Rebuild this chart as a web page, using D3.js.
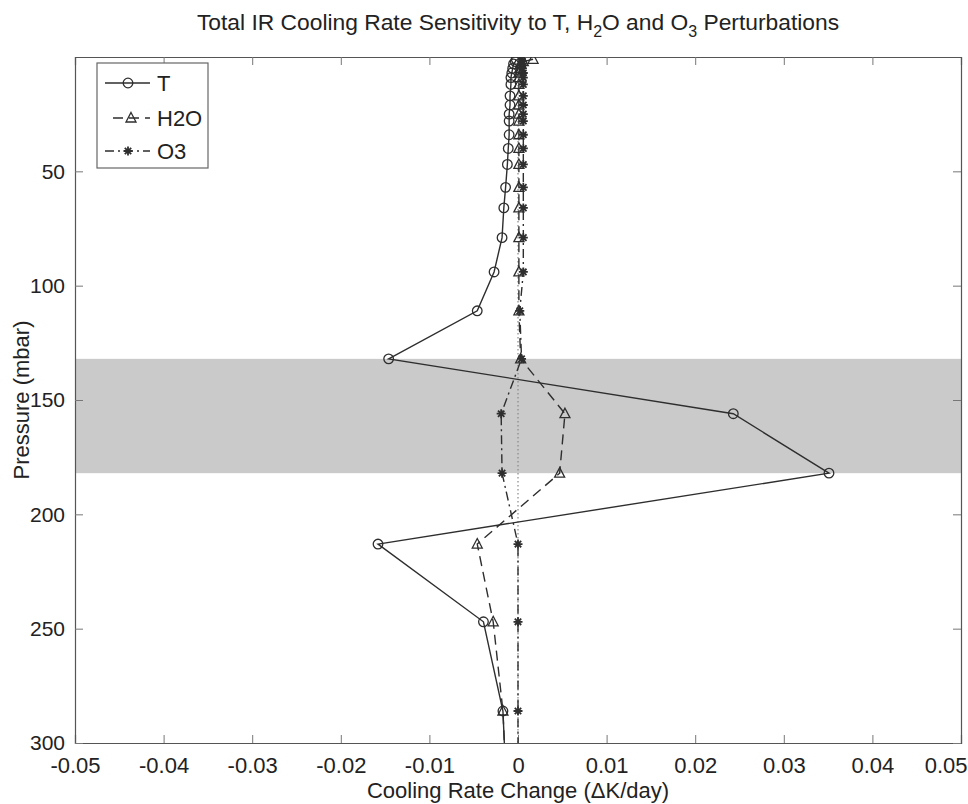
<!DOCTYPE html>
<html>
<head>
<meta charset="utf-8">
<script src="https://cdn.jsdelivr.net/npm/d3@7/dist/d3.min.js"></script>
<style>
  html, body { margin: 0; padding: 0; background: #fff; }
  svg { display: block; }
  text { font-family: "Liberation Sans", Arial, sans-serif; fill: #222; }
</style>
</head>
<body>
<svg id="chart" width="968" height="804"></svg>
<script>
// ---- data ----
const pressure = [1, 2, 3, 5, 7, 9, 12, 17, 21, 25, 28, 34, 40, 47, 57, 66, 79, 94, 111, 132, 156, 182, 213, 247, 286, 330];
const tValues = [-0.0002, -0.0003, -0.0005, -0.0006, -0.0007, -0.0008, -0.0008, -0.0009, -0.0009, -0.001, -0.001, -0.001, -0.0011, -0.0012, -0.0014, -0.0016, -0.0018, -0.0027, -0.0046, -0.0146, 0.0243, 0.0351, -0.0158, -0.0039, -0.0017, -0.0012];
const h2oValues = [0.0017, 0.0006, 0.0003, 0.0002, 0.0001, 0.0001, 0.0001, 0.0001, 0.0001, 0.0001, 0.0001, 0.0001, 0.0001, 0.0001, 0.0001, 0.0001, 0.0001, 0.0001, 0.0001, 0.0003, 0.0053, 0.0047, -0.0046, -0.0028, -0.0017, -0.0012];
const o3Values = [0.0004, 0.0005, 0.0005, 0.0005, 0.0006, 0.0006, 0.0006, 0.0006, 0.0006, 0.0006, 0.0006, 0.0006, 0.0006, 0.0006, 0.0006, 0.0006, 0.0006, 0.0006, 0.0002, 0.0004, -0.0019, -0.0018, 0.0000, 0.0000, 0.0000, 0.0000];
const seriesNames = ["T", "H2O", "O3"];
const xTicks = [-0.05, -0.04, -0.03, -0.02, -0.01, 0, 0.01, 0.02, 0.03, 0.04, 0.05];
const xTickLabels = ["-0.05", "-0.04", "-0.03", "-0.02", "-0.01", "0", "0.01", "0.02", "0.03", "0.04", "0.05"];
const yTicks = [50, 100, 150, 200, 250, 300];
const bandRange = [132, 182];

// ---- layout ----
const svg = d3.select("#chart");
const mLeft = 75, mRight = 961, mTop = 57, mBottom = 743;
const x = d3.scaleLinear().domain([-0.05, 0.05]).range([mLeft, mRight]);
const y = d3.scaleLinear().domain([0, 300]).range([mTop, mBottom]);
const ink = "#2e2e2e";
const fs = 22;

svg.append("defs").append("clipPath").attr("id", "plotclip")
  .append("rect").attr("x", mLeft).attr("y", mTop).attr("width", mRight - mLeft).attr("height", mBottom - mTop);

// shaded band
svg.append("rect")
  .attr("x", mLeft).attr("width", mRight - mLeft)
  .attr("y", y(bandRange[0])).attr("height", y(bandRange[1]) - y(bandRange[0]))
  .attr("fill", "#cacaca");

// axes box
const axB = svg.append("g").attr("transform", `translate(0,${mBottom})`)
  .call(d3.axisBottom(x).tickValues(xTicks).tickSize(-8).tickPadding(14)
    .tickFormat((d, i) => xTickLabels[i]));
const axT = svg.append("g").attr("transform", `translate(0,${mTop})`)
  .call(d3.axisTop(x).tickValues(xTicks).tickSize(-8).tickFormat(""));
const axL = svg.append("g").attr("transform", `translate(${mLeft},0)`)
  .call(d3.axisLeft(y).tickValues(yTicks).tickSize(-8).tickPadding(10));
const axR = svg.append("g").attr("transform", `translate(${mRight},0)`)
  .call(d3.axisRight(y).tickValues(yTicks).tickSize(-8).tickFormat(""));
[axB, axT, axL, axR].forEach(g => {
  g.select(".domain").attr("stroke", "#555").attr("stroke-width", 1.2);
  g.selectAll(".tick line").attr("stroke", "#777");
  g.selectAll("text").attr("font-size", fs).attr("font-family", "Liberation Sans, Arial, sans-serif").attr("fill", "#222");
});
axL.selectAll("text").attr("font-size", 21);
// keep the last x label inside the page edge
axB.selectAll(".tick text").filter(d => d === 0.05).attr("text-anchor", "end").attr("x", 967 - mRight);

const plot = svg.append("g").attr("clip-path", "url(#plotclip)");

// dotted zero line
plot.append("line")
  .attr("x1", x(0)).attr("x2", x(0)).attr("y1", mTop).attr("y2", mBottom)
  .attr("stroke", "#888").attr("stroke-width", 1.2).attr("stroke-dasharray", "1.5,2.5");

const series = [
  { name: seriesNames[0], values: tValues, dash: null, marker: "circle" },
  { name: seriesNames[1], values: h2oValues, dash: "10,6", marker: "triangle" },
  { name: seriesNames[2], values: o3Values, dash: "9,4,2,4", marker: "star" }
];

const line = d3.line().x(d => x(d.v)).y(d => y(d.p));

function drawMarker(g, type) {
  if (type === "circle") {
    g.append("circle").attr("r", 4.8).attr("fill", "none").attr("stroke", ink).attr("stroke-width", 1.3);
  } else if (type === "triangle") {
    g.append("path").attr("d", "M0,-5.5L5,4L-5,4Z").attr("fill", "none").attr("stroke", ink).attr("stroke-width", 1.3);
  } else {
    g.append("path").attr("d", "M-4.5,0H4.5M0,-4.5V4.5M-3.2,-3.2L3.2,3.2M-3.2,3.2L3.2,-3.2")
      .attr("stroke", ink).attr("stroke-width", 1.8);
  }
}

series.forEach(s => {
  const pts = pressure.map((p, i) => ({ p, v: s.values[i] }));
  plot.append("path").datum(pts)
    .attr("d", line).attr("fill", "none").attr("stroke", ink).attr("stroke-width", 1.4)
    .attr("stroke-dasharray", s.dash);
  pts.forEach(d => {
    const g = plot.append("g").attr("transform", `translate(${x(d.v)},${y(d.p)})`);
    drawMarker(g, s.marker);
  });
});

// legend
const lg = svg.append("g");
lg.append("rect").attr("x", 97).attr("y", 63).attr("width", 111).attr("height", 105)
  .attr("fill", "#fff").attr("stroke", "#666").attr("stroke-width", 1.2);
const legendRows = [
  { y: 83, x1: 105, x2: 150, mx: 128 },
  { y: 118, x1: 113, x2: 150, mx: 131 },
  { y: 151, x1: 105, x2: 150, mx: 128 }
];
series.forEach((s, i) => {
  const r = legendRows[i];
  lg.append("line").attr("x1", r.x1).attr("x2", r.x2).attr("y1", r.y).attr("y2", r.y)
    .attr("stroke", ink).attr("stroke-width", 1.3).attr("stroke-dasharray", s.dash);
  drawMarker(lg.append("g").attr("transform", `translate(${r.mx},${r.y})`), s.marker);
  lg.append("text").attr("x", 157).attr("y", r.y + 8).attr("font-size", fs).text(s.name);
});

// title
const title = svg.append("text").attr("x", (mLeft + mRight) / 2).attr("y", 30)
  .attr("text-anchor", "middle").attr("font-size", 22.8);
title.append("tspan").text("Total IR Cooling Rate Sensitivity to T, H");
title.append("tspan").attr("dy", 7).attr("font-size", 16).text("2");
title.append("tspan").attr("dy", -7).text("O and O");
title.append("tspan").attr("dy", 7).attr("font-size", 16).text("3");
title.append("tspan").attr("dy", -7).text(" Perturbations");

// axis labels
svg.append("text").attr("x", (mLeft + mRight) / 2).attr("y", 798)
  .attr("text-anchor", "middle").attr("font-size", fs).text("Cooling Rate Change (\u0394K/day)");
svg.append("text").attr("transform", `translate(29,${(mTop + mBottom) / 2}) rotate(-90)`)
  .attr("text-anchor", "middle").attr("font-size", fs).text("Pressure (mbar)");
</script>
</body>
</html>
